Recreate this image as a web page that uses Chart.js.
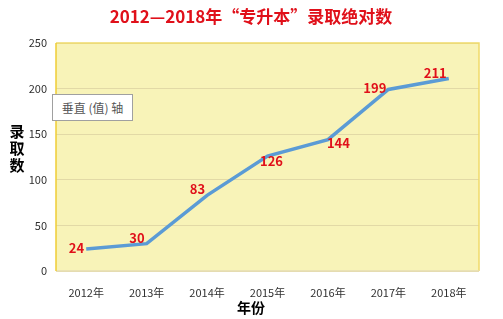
<!DOCTYPE html>
<html>
<head>
<meta charset="utf-8">
<script src="https://cdn.jsdelivr.net/npm/chart.js@4/dist/chart.umd.min.js"></script>
<style>
  html, body { margin: 0; padding: 0; background: #fff; }
  #wrap { position: relative; width: 503px; height: 319px; }
  #tip {
    position: absolute; left: 52px; top: 94px; width: 79px; height: 25px;
    border: 1px solid #a0a0a0; background: #fff; color: #555;
    font: 12px "Noto Sans CJK SC", sans-serif; line-height: 25px; text-align: center;
  }
</style>
</head>
<body>
<div id="wrap">
  <canvas id="chart" width="503" height="319"></canvas>
  <div id="tip">垂直 (值) 轴</div>
</div>
<script>
const years = ['2012年', '2013年', '2014年', '2015年', '2016年', '2017年', '2018年']
const admitted = [24, 30, 83, 126, 144, 199, 211]
const yTicks = [0, 50, 100, 150, 200, 250]

// where each value label sits relative to its point
const labelAt = ['left', 'leftUp', 'leftUp', 'below', 'right', 'left', 'leftUp']

const cjk = '"Noto Sans CJK SC", "Microsoft YaHei", sans-serif'

const decor = {
  id: 'decor',
  beforeDraw(chart) {
    const {ctx, chartArea: a} = chart
    ctx.save()
    ctx.fillStyle = '#f8f3b8'
    ctx.fillRect(a.left, a.top, a.right - a.left, a.bottom - a.top)
    ctx.restore()
  },
  afterDraw(chart) {
    const {ctx, chartArea: a} = chart
    ctx.save()
    ctx.lineWidth = 1.5
    ctx.strokeStyle = '#f0da6a'
    ctx.beginPath()
    ctx.moveTo(a.left, a.top); ctx.lineTo(a.right, a.top); ctx.lineTo(a.right, a.bottom)
    ctx.stroke()
    ctx.strokeStyle = '#e6ddb4'
    ctx.beginPath()
    ctx.moveTo(a.left, a.bottom); ctx.lineTo(a.right, a.bottom)
    ctx.stroke()
    ctx.strokeStyle = '#efcc35'
    ctx.beginPath()
    ctx.moveTo(a.left, a.top); ctx.lineTo(a.left, a.bottom)
    ctx.stroke()

    // title
    ctx.fillStyle = '#e0101a'
    ctx.font = 'bold 17px ' + cjk
    ctx.textAlign = 'center'
    ctx.textBaseline = 'middle'
    ctx.fillText('2012—2018年“专升本”录取绝对数', 251, 17)

    // axis titles
    ctx.fillStyle = '#000'
    ctx.font = 'bold 14px ' + cjk
    ctx.fillText('年份', 251, 308)
    ctx.font = 'bold 15px ' + cjk
    ;['录', '取', '数'].forEach((c, i) => ctx.fillText(c, 17, 131 + i * 17))

    // value labels
    const meta = chart.getDatasetMeta(0)
    ctx.fillStyle = '#e0101a'
    ctx.font = 'bold 13px ' + cjk
    meta.data.forEach((p, i) => {
      const v = String(admitted[i])
      let x = p.x, y = p.y
      switch (labelAt[i]) {
        case 'left':   ctx.textAlign = 'right';  x -= 2; y -= 1; break
        case 'leftUp': ctx.textAlign = 'right';  x -= 2; y -= 6; break
        case 'below':  ctx.textAlign = 'center'; x += 4; y += 5; break
        case 'right':  ctx.textAlign = 'left';   x -= 1; y += 3; break
      }
      ctx.fillText(v, x, y)
    })
    ctx.restore()
  }
}

new Chart(document.getElementById('chart'), {
  type: 'line',
  data: {
    labels: years,
    datasets: [{
      data: admitted,
      borderColor: '#5b9bd5',
      borderWidth: 3.5,
      pointRadius: 0,
      tension: 0,
      fill: false
    }]
  },
  options: {
    responsive: false,
    animation: false,
    layout: {padding: {top: 43, right: 24, left: 0, bottom: 0}},
    plugins: {legend: {display: false}, tooltip: {enabled: false}},
    scales: {
      x: {
        offset: true,
        grid: {display: false},
        border: {display: false},
        ticks: {color: '#303030', font: {family: cjk, size: 11}, padding: 7, maxRotation: 0},
        afterFit(s) { s.height = 48 }
      },
      y: {
        min: 0, max: 250,
        afterBuildTicks(s) { s.ticks = yTicks.map(v => ({value: v})) },
        grid: {color: '#e2d9a6', drawTicks: false},
        border: {display: false},
        ticks: {color: '#303030', font: {family: cjk, size: 11}, padding: 9},
        afterFit(s) { s.width = 56 }
      }
    }
  },
  plugins: [decor]
})
</script>
</body>
</html>
